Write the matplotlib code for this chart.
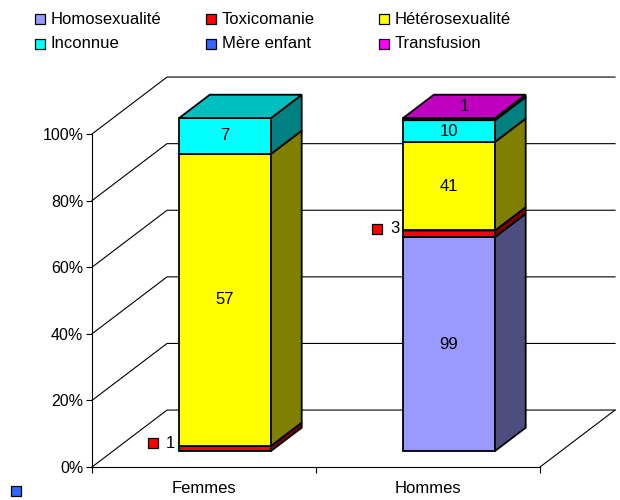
import numpy as np
import matplotlib.pyplot as plt
from matplotlib.patches import Polygon
from matplotlib.colors import to_rgb
from matplotlib.transforms import offset_copy

plt.rcParams['font.family'] = ['Liberation Sans', 'DejaVu Sans']

# data (counts per group)
categories = ['Femmes', 'Hommes']
series = ['Homosexualité', 'Toxicomanie', 'Hétérosexualité',
          'Inconnue', 'Mère enfant', 'Transfusion']
femmes = [0, 1, 57, 7, 0, 0]
hommes = [99, 3, 41, 10, 0, 1]
yticks = [0, 20, 40, 60, 80, 100]
ytick_labels = ['0%', '20%', '40%', '60%', '80%', '100%']

colors = ['#9999FF', '#FF0000', '#FFFF00', '#00FFFF', '#3366FF', '#FF00FF']

# fake 3D geometry (depth in data units of the front plane)
DX, DY = 0.335, 17.1
D0, D1 = 0.28, 0.69
W = 0.41
FS = 12


def proj(x, y, d):
    return (x + d * DX, y + d * DY)


def shade(c, k):
    return tuple(v * k for v in to_rgb(c))


fig = plt.figure(figsize=(6.2, 5), dpi=100)
ax = fig.add_axes([92 / 620, 33 / 500, 448 / 620, 333 / 500])
ax.set_xlim(0, 2)
ax.set_ylim(0, 100)
ax.patch.set_visible(False)

# back wall gridlines + floor
for v in yticks:
    pts = [(0, v), proj(0, v, 1), proj(2, v, 1)]
    ax.plot(*zip(*pts), color='black', lw=0.8, clip_on=False, zorder=1)
ax.plot(*zip(*[(2, 0), proj(2, 0, 1)]), color='black', lw=0.8, clip_on=False, zorder=1)

# axes
for s in ['top', 'right']:
    ax.spines[s].set_visible(False)
for s in ['left', 'bottom']:
    ax.spines[s].set_linewidth(0.8)
ax.set_yticks(yticks)
ax.set_yticklabels(ytick_labels, fontsize=11.5)
ax.set_xticks([0, 1, 2])
ax.set_xticklabels([])
ax.set_xticks([0.5, 1.5], minor=True)
ax.set_xticklabels(categories, minor=True, fontsize=FS)
ax.tick_params(axis='y', length=4.3, width=0.8, pad=2)
ax.tick_params(axis='x', which='major', length=4.3, width=0.8)
ax.tick_params(axis='x', which='minor', length=0, pad=10)

for i, vals in enumerate([femmes, hommes]):
    vals = np.array(vals, dtype=float)
    pct = vals / vals.sum() * 100
    bottoms = np.concatenate([[0], np.cumsum(pct)[:-1]])
    x0, x1 = i + 0.5 - W / 2, i + 0.5 + W / 2
    last = max(j for j in range(len(vals)) if vals[j] > 0)
    for j in range(len(vals)):
        if vals[j] == 0:
            continue
        y0, y1 = bottoms[j], bottoms[j] + pct[j]
        c = colors[j]
        front = [proj(x0, y0, D0), proj(x1, y0, D0), proj(x1, y1, D0), proj(x0, y1, D0)]
        side = [proj(x1, y0, D0), proj(x1, y0, D1), proj(x1, y1, D1), proj(x1, y1, D0)]
        top = [proj(x0, y1, D0), proj(x1, y1, D0), proj(x1, y1, D1), proj(x0, y1, D1)]
        for poly, col in [(front, c), (side, shade(c, 0.5)), (top, shade(c, 0.75))]:
            ax.add_patch(Polygon(poly, closed=True, facecolor=col, edgecolor='black',
                                 lw=1.3, joinstyle='miter', clip_on=False, zorder=3))
        lab = str(int(vals[j]))
        if pct[j] < 2.5 and j == last:
            cx, cy = proj(i + 0.5, y1, (D0 + D1) / 2)
            ax.text(cx, cy, lab, ha='center', va='center', fontsize=FS, zorder=5)
        elif pct[j] < 2.5:
            lx, ly = proj(x0, (y0 + y1) / 2, D0)
            tr_t = offset_copy(ax.transData, fig, x=-4, y=5, units='dots')
            tr_k = offset_copy(ax.transData, fig, x=-26, y=5, units='dots')
            ax.text(lx, ly, lab, ha='right', va='center', fontsize=FS,
                    transform=tr_t, zorder=5)
            ax.plot([lx], [ly], marker='s', ms=7, mfc=c, mec='black', mew=0.9,
                    transform=tr_k, clip_on=False, zorder=5)
        else:
            cx, cy = proj(i + 0.5, (y0 + y1) / 2, D0)
            ax.text(cx, cy, lab, ha='center', va='center', fontsize=FS, zorder=5)

# legend and stray label key, in pixel layout
ov = fig.add_axes([0, 0, 1, 1])
ov.set_xlim(0, 620)
ov.set_ylim(500, 0)
ov.axis('off')
key_x = [40, 211, 384]
row_y = [19, 44]
for k, name in enumerate(series):
    kx, ky = key_x[k % 3], row_y[k // 3]
    ov.plot([kx], [ky], marker='s', ms=7, mfc=colors[k], mec='black', mew=0.9)
    ov.text(kx + 11, ky, name, ha='left', va='center', fontsize=FS)
ov.plot([16], [491], marker='s', ms=7, mfc=colors[4], mec='black', mew=0.9)

fig.savefig('out.png', dpi=100)
